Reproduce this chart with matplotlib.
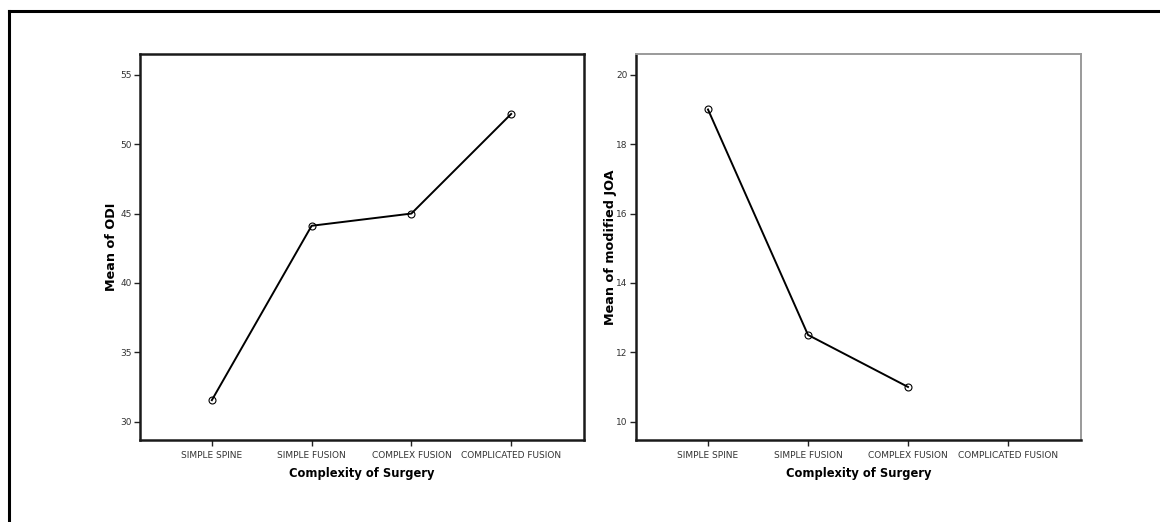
import matplotlib.pyplot as plt
from matplotlib.lines import Line2D

categories = ["SIMPLE SPINE", "SIMPLE FUSION", "COMPLEX FUSION", "COMPLICATED FUSION"]
odi_means = [31.55, 44.12, 45.0, 52.18]
joa_means = [19.0, 12.5, 11.0]  # no value for COMPLICATED FUSION
odi_ticks = [30, 35, 40, 45, 50, 55]
joa_ticks = [10, 12, 14, 16, 18, 20]

plt.rcParams['font.family'] = ['Liberation Sans Narrow', 'DejaVu Sans Condensed', 'DejaVu Sans']

W, H = 1160, 522
fig = plt.figure(figsize=(W / 100, H / 100), dpi=100)

# outer frame: only left and top edges fall inside the image
fig.add_artist(Line2D([9 / W, 9 / W], [0, 1 - 10.5 / H], color='black', lw=2.2,
                      transform=fig.transFigure, solid_capstyle='projecting'))
fig.add_artist(Line2D([9 / W, 1], [1 - 10.5 / H, 1 - 10.5 / H], color='black', lw=2.2,
                      transform=fig.transFigure, solid_capstyle='projecting'))


def make_axes(x0, x1, y0=54, y1=440):
    return fig.add_axes([x0 / W, 1 - y1 / H, (x1 - x0) / W, (y1 - y0) / H])


def style(ax, ticks, ylim, ylabel, gray_top_right, ylabel_x):
    ax.set_xlim(-0.72, 3.73)
    ax.set_ylim(*ylim)
    ax.set_xticks(range(len(categories)))
    ax.set_xticklabels(categories)
    ax.set_yticks(ticks)
    ax.tick_params(axis='both', direction='out', length=4, width=1,
                   labelsize=6.5, labelcolor='#333333', colors='#222222', pad=2)
    ax.tick_params(axis='x', pad=4)
    for side in ['left', 'bottom']:
        ax.spines[side].set_color('#1a1a1a')
        ax.spines[side].set_linewidth(1.8)
    for side in ['top', 'right']:
        if gray_top_right:
            ax.spines[side].set_color('#9a9a9a')
            ax.spines[side].set_linewidth(1.4)
        else:
            ax.spines[side].set_color('#1a1a1a')
            ax.spines[side].set_linewidth(1.8)
    ax.set_ylabel(ylabel, fontsize=9.2, fontweight='bold', family='DejaVu Sans')
    ax.yaxis.set_label_coords(ylabel_x, 0.5)
    ax.set_xlabel("Complexity of Surgery", fontsize=8.3, fontweight='bold',
                  family='DejaVu Sans', labelpad=5)


ax1 = make_axes(140, 584)
ax1.plot(range(len(odi_means)), odi_means, color='black', lw=1.4,
         marker='o', markersize=5, markerfacecolor='none', markeredgewidth=0.8)
style(ax1, odi_ticks, (28.68, 56.5), "Mean of ODI", False, -0.05)

ax2 = make_axes(636, 1081)
ax2.plot(range(len(joa_means)), joa_means, color='black', lw=1.4,
         marker='o', markersize=5, markerfacecolor='none', markeredgewidth=0.8)
style(ax2, joa_ticks, (9.47, 20.6), "Mean of modified JOA", True, -0.043)

fig.savefig("out.png", dpi=100)
